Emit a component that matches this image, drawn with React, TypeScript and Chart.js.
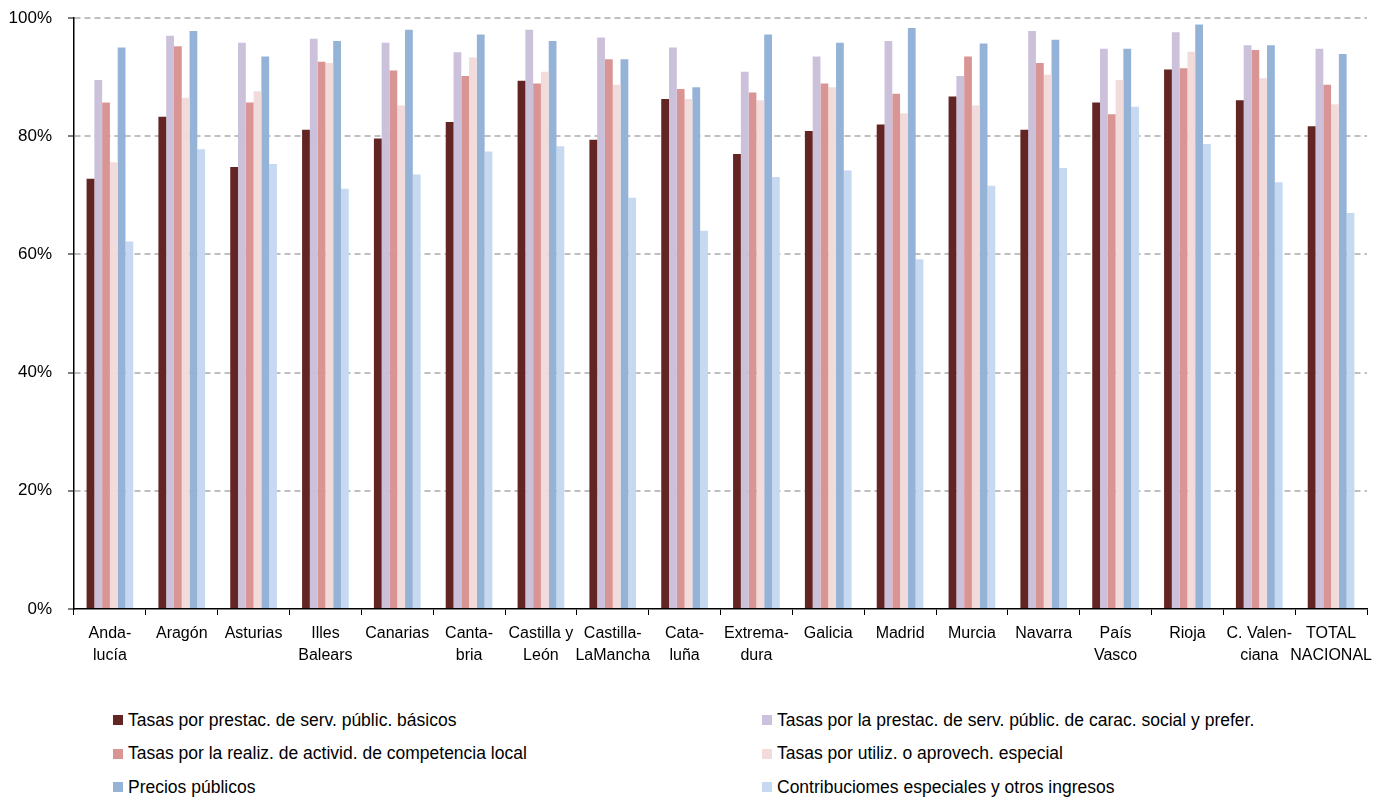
import React, { useEffect, useRef } from "react";
import { Chart, registerables } from "chart.js";

Chart.register(...registerables);

const categories: string[][] = [
  ["Anda-", "lucía"], ["Aragón"], ["Asturias"], ["Illes", "Balears"], ["Canarias"],
  ["Canta-", "bria"], ["Castilla y", "León"], ["Castilla-", "LaMancha"], ["Cata-", "luña"],
  ["Extrema-", "dura"], ["Galicia"], ["Madrid"], ["Murcia"], ["Navarra"], ["País", "Vasco"],
  ["Rioja"], ["C. Valen-", "ciana"], ["TOTAL", "NACIONAL"],
];

const seriesNames = [
  "Tasas por prestac. de serv. públic. básicos",
  "Tasas por la prestac. de serv. públic. de carac. social y prefer.",
  "Tasas por la realiz. de activid. de competencia local",
  "Tasas por utiliz. o aprovech. especial",
  "Precios públicos",
  "Contribuciomes especiales y otros ingresos",
];

const seriesColors = ["#632523", "#ccc1da", "#d99594", "#f2dcdb", "#95b3d7", "#c6d9f1"];

const basicos = [72.8, 83.3, 74.8, 81.1, 79.6, 82.4, 89.4, 79.4, 86.3, 77.0, 80.9, 82.0, 86.7, 81.1, 85.7, 91.3, 86.1, 81.7];
const social = [89.5, 97.0, 95.8, 96.5, 95.8, 94.2, 98.0, 96.7, 95.0, 90.9, 93.5, 96.1, 90.2, 97.8, 94.8, 97.6, 95.4, 94.8];
const competencia = [85.7, 95.2, 85.7, 92.6, 91.1, 90.2, 88.9, 93.0, 88.0, 87.4, 88.9, 87.2, 93.5, 92.4, 83.7, 91.5, 94.6, 88.7];
const utiliz = [75.6, 86.5, 87.6, 92.4, 85.2, 93.3, 90.9, 88.7, 86.3, 86.1, 88.3, 83.9, 85.2, 90.4, 89.5, 94.3, 89.8, 85.4];
const precios = [95.0, 97.8, 93.5, 96.1, 98.0, 97.2, 96.1, 93.0, 88.3, 97.2, 95.8, 98.3, 95.7, 96.3, 94.8, 98.9, 95.4, 93.9];
const contribuciones = [62.2, 77.8, 75.3, 71.1, 73.5, 77.4, 78.3, 69.6, 64.0, 73.1, 74.2, 59.2, 71.6, 74.6, 85.0, 78.7, 72.2, 67.0];

const seriesValues = [basicos, social, competencia, utiliz, precios, contribuciones];

const FONT = "'Liberation Sans', Arial, sans-serif";

export default function App() {
  const canvasRef = useRef<HTMLCanvasElement | null>(null);

  useEffect(() => {
    const canvas = canvasRef.current;
    if (!canvas) return;
    const chart = new Chart(canvas, {
      type: "bar",
      data: {
        labels: categories,
        datasets: seriesNames.map((name, i) => ({
          label: name,
          data: seriesValues[i],
          backgroundColor: seriesColors[i],
          borderWidth: 0,
          barPercentage: 1,
          categoryPercentage: 0.65,
        })),
      },
      options: {
        responsive: false,
        animation: false,
        devicePixelRatio: 1,
        layout: { padding: { left: 0, right: 17, top: 18, bottom: 0 } },
        plugins: {
          legend: { display: false },
          tooltip: { enabled: false },
        },
        scales: {
          x: {
            grid: {
              display: true,
              offset: true,
              drawOnChartArea: false,
              drawTicks: true,
              tickLength: 6,
              tickColor: "#000",
              tickWidth: 1,
            },
            border: { display: true, color: "#000", width: 1.5 },
            ticks: {
              color: "#000",
              font: { family: FONT, size: 16, lineHeight: 1.35 },
              padding: 8,
              maxRotation: 0,
              autoSkip: false,
            },
            afterFit: (scale: any) => {
              scale.height = 690 - 609;
            },
          },
          y: {
            min: 0,
            max: 100,
            ticks: {
              stepSize: 20,
              color: "#000",
              font: { family: FONT, size: 17, lineHeight: 0.2 },
              padding: 16,
              callback: (v: any) => v + "%",
            },
            grid: {
              color: (ctx: any) => (ctx.tick && ctx.tick.value === 0 ? "rgba(0,0,0,0)" : "#bfbfbf"),
              lineWidth: 2,
              drawTicks: true,
              tickLength: 6,
              tickColor: "#000",
              tickWidth: 1,
              tickBorderDash: [],
            },
            border: { display: true, color: "#000", width: 1.5, dash: [6, 4] },
            afterFit: (scale: any) => {
              scale.width = 74;
              scale.paddingTop = 0;
              scale.paddingBottom = 0;
            },
          },
        },
      },
    });
    return () => chart.destroy();
  }, []);

  const legendRows = [
    [0, 1],
    [2, 3],
    [4, 5],
  ];

  return (
    <div style={{ position: "fixed", left: 0, top: 0, width: 1384, height: 802, background: "#fff", overflow: "hidden" }}>
      <canvas ref={canvasRef} width={1384} height={690} style={{ position: "absolute", left: 0, top: 0 }} />
      {legendRows.map((row, r) =>
        row.map((idx, c) => (
          <div
            key={idx}
            style={{
              position: "absolute",
              left: c === 0 ? 113 : 762,
              top: 720 + r * 33.5 - 12,
              height: 24,
              display: "flex",
              alignItems: "center",
              fontFamily: FONT,
              fontSize: 17.5,
              color: "#000",
              whiteSpace: "nowrap",
            }}
          >
            <span style={{ display: "inline-block", width: 10, height: 10, background: seriesColors[idx], marginRight: 5 }} />
            <span>{seriesNames[idx]}</span>
          </div>
        ))
      )}
    </div>
  );
}
